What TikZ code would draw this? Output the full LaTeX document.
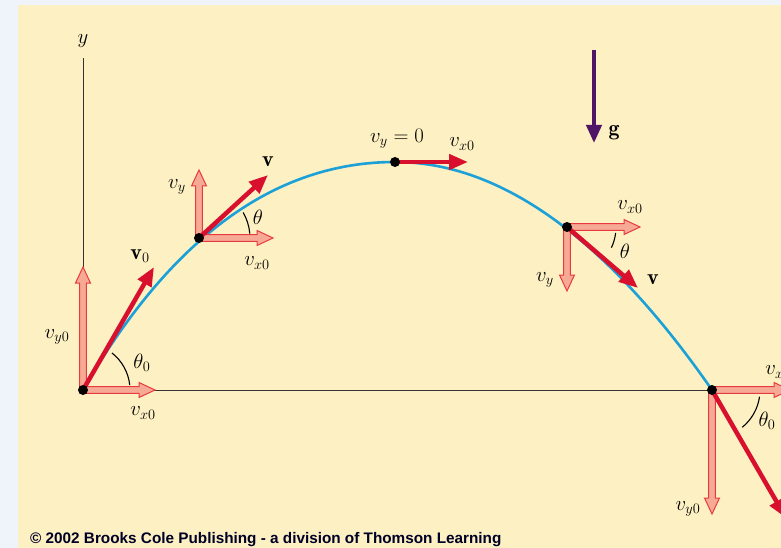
\documentclass[tikz,border=0pt]{standalone}
\usepackage{fontspec}
\newfontfamily\copyfont{Liberation Sans}
\usetikzlibrary{arrows.meta,calc}
\definecolor{hatter}{RGB}{239,244,251}
\definecolor{lap}{RGB}{253,240,194}
\definecolor{piros}{RGB}{216,16,46}
\definecolor{szel}{RGB}{232,58,62}
\definecolor{rozsa}{RGB}{246,170,150}
\definecolor{kek}{RGB}{28,160,216}
\definecolor{lila}{RGB}{78,22,100}
\tikzset{
  golyo/.style={circle,fill=black,inner sep=0pt,minimum size=10pt},
  seb/.style={piros,line width=4.5pt,-{Triangle[length=19pt,width=15pt]}},
  grav/.style={lila,line width=4pt,-{Triangle[length=18pt,width=15pt]}},
  komp/.style={draw=szel,fill=rozsa,line width=1pt,line join=miter},
  palya/.style={kek,line width=2.6pt},
  tengely/.style={black!80,line width=0.9pt},
  szog/.style={black,line width=1.1pt},
  felirat/.style={inner sep=1pt},
}
% ures nyil: #1 kezdopont, #2 csucs
\newcommand{\kompnyil}[2]{%
  \coordinate (kb) at ($(#2)!16pt!(#1)$);
  \draw[komp] ($(#1)!3.3pt!90:(#2)$) -- ($(kb)!3.3pt!-90:(#1)$) -- ($(kb)!7.5pt!-90:(#1)$) -- (#2)
    -- ($(kb)!7.5pt!90:(#1)$) -- ($(kb)!3.3pt!90:(#1)$) -- ($(#1)!3.3pt!-90:(#2)$) -- cycle;}

\begin{document}
\begin{tikzpicture}[x=1pt,y=-1pt,font=\fontsize{22}{26}\selectfont]
  \useasboundingbox (0,0) rectangle (781,548);
  \clip (0,0) rectangle (781,548);
  \fill[hatter] (0,0) rectangle (781,548);
  \fill[lap] (18,5) rectangle (781,548);

  % pontok a palyan
  \coordinate (O) at (83,390);
  \coordinate (P) at (199,238);
  \coordinate (A) at (395,162);
  \coordinate (Q) at (567,227);
  \coordinate (L) at (712,390);
  \coordinate (ytop) at (83,58);

  \draw[palya] (O) .. controls (170.7,238) and (274.7,162) .. (A)
    .. controls (500.7,162) and (606.3,238) .. (L);
  \draw[tengely] (O) -- (ytop);
  \draw[tengely] (O) -- (L);

  % kezdopont
  \coordinate (Ox) at (155,390); \coordinate (Oy) at (83,267); \coordinate (Ov) at (154,267);
  \kompnyil{O}{Oy} \kompnyil{O}{Ox}
  \draw[seb] (O) -- (Ov);
  \draw[szog] (O) ++(6:47pt) arc (6:52:47pt);
  % emelkedo szakasz
  \coordinate (Px) at (273,238); \coordinate (Py) at (199,170); \coordinate (Pv) at (268,175);
  \kompnyil{P}{Py} \kompnyil{P}{Px}
  \draw[seb] (P) -- (Pv);
  \draw[szog] (P) ++(5:51pt) arc (5:30:51pt);
  % csucspont
  \coordinate (Av) at (468,162);
  \draw[seb] (A) -- (Av);
  % eso szakasz
  \coordinate (Qx) at (640,227); \coordinate (Qy) at (567,291); \coordinate (Qv) at (638,288);
  \kompnyil{Q}{Qy} \kompnyil{Q}{Qx}
  \draw[seb] (Q) -- (Qv);
  \draw[szog] (Q) ++(-7:49pt) arc (-7:-25:49pt);
  % becsapodas
  \coordinate (Lx) at (790,390); \coordinate (Ly) at (712,514); \coordinate (Lv) at (786,518);
  \kompnyil{L}{Ly} \kompnyil{L}{Lx}
  \draw[seb] (L) -- (Lv);
  \draw[szog] (L) ++(-8:48pt) arc (-8:-51:48pt);

  % g
  \coordinate (gt) at (594,50); \coordinate (gh) at (594,143);
  \draw[grav] (gt) -- (gh);

  \foreach \p in {O,P,A,Q,L} \node[golyo] (d\p) at (\p) {};

  % feliratok
  \node[felirat] (ylab) at (83,41) {$y$};
  \node[felirat] (v0lab) at (140,256) {$\mathbf{v}_0$};
  \node[felirat] (vy0lab) at (57,337) {$v_{y0}$};
  \node[felirat] (vx0lab) at (143,413) {$v_{x0}$};
  \node[felirat] (th0lab) at (142,363) {$\theta_0$};
  \node[felirat] (vPlab) at (268,162) {$\mathbf{v}$};
  \node[felirat] (vyPlab) at (177,187) {$v_y$};
  \node[felirat] (vxPlab) at (257,263) {$v_{x0}$};
  \node[felirat] (thPlab) at (258,217) {$\theta$};
  \node[felirat] (vyAlab) at (397,139) {$v_y = 0$};
  \node[felirat] (vxAlab) at (462,144) {$v_{x0}$};
  \node[felirat] (glab) at (614,133) {$\mathbf{g}$};
  \node[felirat] (vxQlab) at (630,207) {$v_{x0}$};
  \node[felirat] (vQlab) at (653,280) {$\mathbf{v}$};
  \node[felirat] (vyQlab) at (545,280) {$v_y$};
  \node[felirat] (thQlab) at (625,251) {$\theta$};
  \node[felirat] (vxLlab) at (778,372) {$v_{x0}$};
  \node[felirat] (vyLlab) at (688,509) {$v_{y0}$};
  \node[felirat] (thLlab) at (767,421) {$\theta_0$};

  \node[anchor=base west,inner sep=0pt,font=\copyfont\bfseries\fontsize{15.3}{18}\selectfont,black!85!blue]
    (copy) at (30,543) {© 2002 Brooks Cole Publishing - a division of Thomson Learning};
\end{tikzpicture}
\end{document}
